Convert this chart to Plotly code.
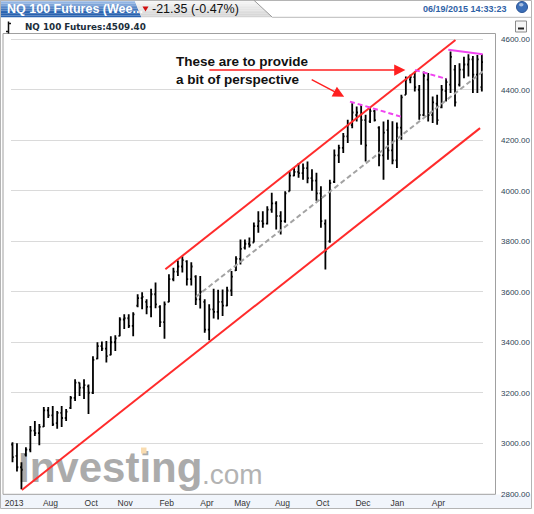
import plotly.graph_objects as go

# weekly NQ 100 futures bars, Jun 2013 - Jun 2015
weeks = list(range(106))
opens = [2995, 2950, 2905, 2955, 2975, 3050, 3040, 3066, 3130, 3110,
         3080, 3120, 3100, 3140, 3180, 3240, 3220, 3225, 3200, 3335,
         3385, 3375, 3350, 3400, 3425, 3490, 3495, 3465, 3545, 3575,
         3560, 3540, 3590, 3540, 3480, 3560, 3650, 3680, 3700, 3720,
         3650, 3660, 3570, 3560, 3450, 3530, 3520, 3560, 3545, 3605,
         3685, 3730, 3775, 3790, 3795, 3860, 3880, 3870, 3925, 3950,
         3900, 3880, 3998, 4060, 4075, 4070, 4090, 4050, 4040, 3990,
         3870, 3800, 4035, 4140, 4170, 4215, 4260, 4300, 4300, 4280,
         4275, 4315, 4250, 4140, 4240, 4160, 4120, 4250, 4380, 4440,
         4450, 4400, 4300, 4440, 4300, 4345, 4330, 4395, 4420, 4480,
         4420, 4480, 4500, 4520, 4460, 4410]
highs = [3004, 3000, 2925, 2984, 3068, 3088, 3076, 3144, 3144, 3148,
         3128, 3148, 3136, 3187, 3253, 3241, 3253, 3233, 3345, 3400,
         3403, 3405, 3424, 3428, 3499, 3511, 3511, 3519, 3590, 3598,
         3570, 3612, 3637, 3547, 3561, 3669, 3695, 3724, 3741, 3725,
         3717, 3665, 3662, 3570, 3550, 3612, 3608, 3609, 3620, 3682,
         3741, 3807, 3807, 3815, 3874, 3919, 3919, 3939, 3992, 3958,
         3919, 3998, 4077, 4090, 4110, 4108, 4116, 4085, 4071, 4018,
         3886, 4044, 4163, 4182, 4229, 4281, 4347, 4334, 4340, 4301,
         4327, 4321, 4255, 4274, 4281, 4275, 4270, 4380, 4452, 4459,
         4472, 4419, 4472, 4466, 4373, 4380, 4419, 4446, 4551, 4498,
         4505, 4531, 4541, 4534, 4538, 4542]
lows = [2925, 2888, 2818, 2948, 2964, 3029, 2992, 3064, 3100, 3068,
        3057, 3064, 3088, 3136, 3167, 3187, 3175, 3116, 3195, 3333,
        3365, 3320, 3349, 3365, 3424, 3452, 3456, 3424, 3539, 3531,
        3511, 3499, 3535, 3460, 3414, 3558, 3642, 3662, 3676, 3625,
        3625, 3548, 3534, 3438, 3408, 3494, 3490, 3504, 3543, 3583,
        3682, 3708, 3767, 3775, 3795, 3834, 3853, 3866, 3913, 3847,
        3827, 3873, 3998, 4057, 4051, 4044, 4030, 4000, 3960, 3853,
        3688, 3794, 4031, 4110, 4150, 4189, 4248, 4274, 4182, 4116,
        4268, 4274, 4097, 4044, 4123, 4105, 4090, 4202, 4380, 4426,
        4393, 4281, 4295, 4274, 4268, 4261, 4327, 4353, 4387, 4334,
        4413, 4446, 4452, 4387, 4387, 4393]
closes = [2945, 2905, 2895, 2975, 3050, 3040, 3065, 3130, 3110, 3075,
          3120, 3100, 3125, 3180, 3240, 3220, 3230, 3200, 3330, 3385,
          3375, 3345, 3400, 3415, 3490, 3495, 3465, 3510, 3575, 3580,
          3540, 3590, 3550, 3480, 3550, 3650, 3680, 3700, 3725, 3650,
          3700, 3570, 3600, 3450, 3530, 3520, 3560, 3545, 3605, 3660,
          3730, 3770, 3790, 3785, 3860, 3880, 3870, 3925, 3950, 3900,
          3880, 3990, 4060, 4075, 4070, 4090, 4050, 4040, 3990, 3880,
          3760, 4030, 4140, 4170, 4215, 4260, 4310, 4310, 4280, 4180,
          4315, 4280, 4140, 4230, 4160, 4120, 4250, 4370, 4440, 4450,
          4410, 4300, 4455, 4300, 4350, 4280, 4400, 4430, 4530, 4350,
          4480, 4500, 4520, 4460, 4520, 4509.4]

x_tick_pos = [0.36, 8.5, 17.6, 25.2, 34.5, 43.5, 51.4, 60.4, 69.4, 78.4, 86.1, 95.3]
x_tick_text = ["2013", "Aug", "Oct", "Nov", "Feb", "Apr", "May", "Aug", "Oct", "Dec", "Jan", "Apr"]
y_ticks = [2800, 3000, 3200, 3400, 3600, 3800, 4000, 4200, 4400, 4600]
y_tick_text = ["2800.00", "3000.00", "3200.00", "3400.00", "3600.00",
               "3800.00", "4000.00", "4200.00", "4400.00", "4600.00"]

# hand drawn lines (week index, price)
upper_chan_x = [34.2, 99.1]
upper_chan_y = [3689, 4597]
lower_chan_x = [2.1, 104.6]
lower_chan_y = [2815, 4248]
mid_dash_x = [41.05, 105.5]
mid_dash_y = [3580, 4476]
mag1_x = [75.5, 87.2]
mag1_y = [4353, 4292]
mag2_x = [90.05, 97.1]
mag2_y = [4478, 4443]
mag3_x = [97.5, 105.2]
mag3_y = [4558, 4541]

# arrows: head and tail (week index, price)
arrow_heads = [(87.9, 4478), (74.2, 4372)]
arrow_tails = [(43.7, 4478), (66.6, 4443)]
note_text = "These are to provide<br>a bit of perspective"
note_pos = (36.2, 4549)

title_text = "NQ 100 Futures (Wee..."
change_text = "-21.35 (-0.47%)"
stamp_text = "06/19/2015 14:33:23"
last_text = "NQ 100 Futures:4509.40"

W, H = 534, 514
PL, PR, PT, PB = 11, 483, 34, 494


def fx(px):
    return (px - PL) / (PR - PL)


def fy(py):
    return (PB - py) / (PB - PT)


def mix(c1, c2, t):
    a = [int(c1[i:i + 2], 16) for i in (1, 3, 5)]
    b = [int(c2[i:i + 2], 16) for i in (1, 3, 5)]
    return "#" + "".join("%02x" % round(a[k] + (b[k] - a[k]) * t) for k in range(3))


def rect(x0, y0, x1, y1, fill=None, line=None, lw=1, layer="below", kind="rect"):
    return dict(type=kind, xref="paper", yref="paper",
                x0=fx(x0), x1=fx(x1), y0=fy(y0), y1=fy(y1),
                fillcolor=fill or "rgba(0,0,0,0)",
                line=dict(color=line or "rgba(0,0,0,0)", width=lw if line else 0),
                layer=layer)


def poly(pts, fill, line=None, lw=1, layer="below"):
    p = "M " + " L ".join("%f,%f" % (fx(a), fy(b)) for a, b in pts) + " Z"
    return dict(type="path", xref="paper", yref="paper", path=p,
                fillcolor=fill, line=dict(color=line or "rgba(0,0,0,0)", width=lw if line else 0),
                layer=layer)


def seg(x0, y0, x1, y1, color, lw=1):
    return dict(type="line", xref="paper", yref="paper",
                x0=fx(x0), x1=fx(x1), y0=fy(y0), y1=fy(y1),
                line=dict(color=color, width=lw), layer="above")


shapes = []
# bottom strip under the frame
shapes.append(rect(1, 494.5, 531, 508, fill="#f1f5fb"))
# tabs with a simple vertical gradient
n = 10
for k in range(n):
    ya, yb = 17.3 * k / n, 17.3 * (k + 1) / n
    shapes.append(poly([(0, ya), (134.5 + 6.8 * ya / 17.3, ya), (134.5 + 6.8 * yb / 17.3, yb), (0, yb)],
                       mix("#a4c3ec", "#2a63b0", min(1, k / (n - 1) * 1.4))))
    shapes.append(poly([(134.5 + 6.8 * ya / 17.3, ya), (253.7 + 18.7 * ya / 17.3, ya),
                        (253.7 + 18.7 * yb / 17.3, yb), (134.5 + 6.8 * yb / 17.3, yb)],
                       mix("#f7f7f7", "#d4d4d4", k / (n - 1))))
shapes.append(seg(253.7, 0, 272.4, 17.3, "#9a9a9a"))
shapes.append(seg(272.4, 17.3, 531.5, 17.3, "#b9b9b9"))
# red down triangle
shapes.append(poly([(142.5, 6.5), (148.5, 6.5), (145.5, 11.5)], "#d01010"))
# blue ball
shapes.append(rect(516.5, 1.5, 527.5, 12.5, fill="#3c6fb8", line="#2b5597", kind="circle"))
shapes.append(rect(519, 3, 523.5, 6.5, fill="rgba(255,255,255,0.55)", kind="circle"))
# small ohlc icon
shapes.append(seg(8.5, 21.5, 8.5, 33.5, "#111", 1.5))
shapes.append(seg(6, 31.5, 8.5, 31.5, "#111", 1.5))
shapes.append(seg(8.5, 23.5, 11, 23.5, "#111", 1.5))
# minimize button
shapes.append(rect(515.5, 21, 526.5, 32, fill="#f6f6f6", line="#8a8a8a"))
shapes.append(rect(518, 27.5, 524, 29.5, fill="#222"))
# chart frame and outer border
shapes.append(rect(3, 33.5, 495.5, 494.3, line="#a0a0a0"))
shapes.append(rect(0.5, 0.5, 531.5, 508.5, line="#b4b4b4"))
# watermark
shapes.append(dict(type="rect", xref="paper", yref="paper",
                   x0=fx(15), x1=fx(205), y0=fy(486), y1=fy(440),
                   line=dict(width=0), fillcolor="rgba(0,0,0,0)", layer="below",
                   label=dict(text="Investing", textposition="middle left", padding=0,
                              font=dict(size=42, color="#ababab", family="Liberation Sans",
                                        weight="bold"))))
shapes.append(dict(type="rect", xref="paper", yref="paper",
                   x0=fx(199), x1=fx(275), y0=fy(487), y1=fy(455),
                   line=dict(width=0), fillcolor="rgba(0,0,0,0)", layer="below",
                   label=dict(text=".com", textposition="middle left", padding=0,
                              font=dict(size=28, color="#b3b3b3", family="Liberation Sans"))))
shapes.append(rect(141, 447.5, 146.5, 453.5, fill="#f9dcb0"))

fig = go.Figure()
fig.add_trace(go.Ohlc(
    x=weeks, open=opens, high=highs, low=lows, close=closes,
    increasing=dict(line=dict(color="#000000", width=1.8)),
    decreasing=dict(line=dict(color="#000000", width=1.8)),
    tickwidth=0.3, hoverinfo="skip", showlegend=False,
))
fig.add_trace(go.Scatter(x=mid_dash_x, y=mid_dash_y, mode="lines",
                         line=dict(color="#a3a3a3", width=2, dash="5px,3px"), hoverinfo="skip"))
for xs, ys in [(upper_chan_x, upper_chan_y), (lower_chan_x, lower_chan_y)]:
    fig.add_trace(go.Scatter(x=xs, y=ys, mode="lines",
                             line=dict(color="#ff2b2b", width=2), hoverinfo="skip"))
for xs, ys, d in [(mag1_x, mag1_y, "5px,3px"), (mag2_x, mag2_y, "5px,3px"), (mag3_x, mag3_y, "solid")]:
    fig.add_trace(go.Scatter(x=xs, y=ys, mode="lines",
                             line=dict(color="#f044f0", width=2, dash=d), hoverinfo="skip"))

annotations = []
for (hx, hy), (tx, ty) in zip(arrow_heads, arrow_tails):
    annotations.append(dict(x=hx, y=hy, ax=tx, ay=ty, xref="x", yref="y", axref="x", ayref="y",
                            text="", showarrow=True, arrowhead=2, arrowsize=1.6,
                            arrowwidth=1.4, arrowcolor="#ff2020"))
annotations.append(dict(x=note_pos[0], y=note_pos[1], xref="x", yref="y", text=note_text,
                        showarrow=False, xanchor="left", yanchor="top", align="left",
                        font=dict(family="Liberation Sans", size=13.5, color="#111", weight="bold")))


def label(text, x, y, size, color, anchor="left", family="Liberation Sans", weight="bold"):
    return dict(text=text, x=fx(x), y=fy(y), xref="paper", yref="paper", showarrow=False,
                xanchor=anchor, yanchor="middle",
                font=dict(family=family, size=size, color=color, weight=weight))


annotations.append(label(title_text, 5, 9.5, 12.5, "#ffffff"))
annotations.append(label(change_text, 150, 9.5, 12.5, "#111111", weight="normal"))
annotations.append(label(stamp_text, 508.5, 9, 9, "#2f62a6", anchor="right"))
annotations.append(label(last_text, 23, 26.5, 8.8, "#1c2e3b", family="DejaVu Sans"))

fig.update_layout(
    width=W, height=H, autosize=False,
    margin=dict(l=PL, r=W - PR, t=PT, b=H - PB, pad=0, autoexpand=False),
    paper_bgcolor="#ffffff", plot_bgcolor="rgba(0,0,0,0)",
    showlegend=False, hovermode=False,
    shapes=shapes, annotations=annotations,
    xaxis=dict(range=[-0.336, 105.26], tickvals=x_tick_pos, ticktext=x_tick_text,
               showgrid=False, zeroline=False, showline=False, ticks="", automargin=False,
               ticklabelstandoff=2, rangeslider=dict(visible=False),
               tickfont=dict(family="Liberation Sans", size=8.5, color="#333333")),
    yaxis=dict(range=[2799, 4620.8], side="right", tickvals=y_ticks, ticktext=y_tick_text,
               showgrid=True, gridcolor="#dadada", gridwidth=1, zeroline=False, automargin=False,
               showline=False, ticks="", ticklabelstandoff=17,
               tickfont=dict(family="Liberation Sans", size=8, color="#2f4356")),
)

# the page body has a default 8px margin; drop it so the figure sits at 0,0
fig.write_html("out.html", config={"displayModeBar": False},
               post_script="document.body.style.margin='0';")
